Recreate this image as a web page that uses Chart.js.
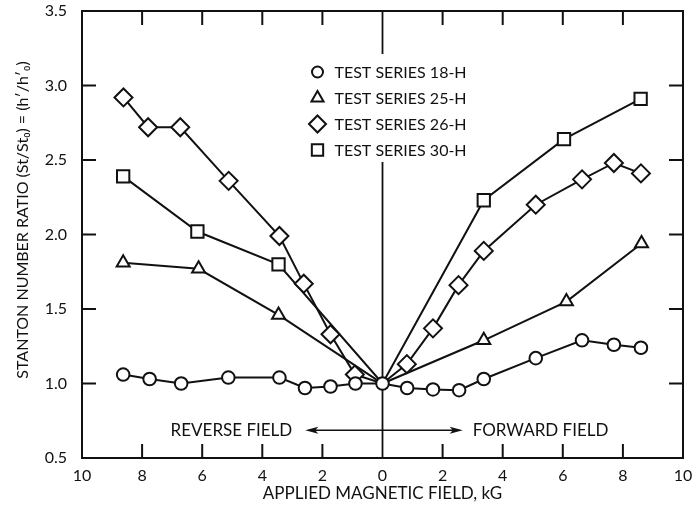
<!DOCTYPE html>
<html>
<head>
<meta charset="utf-8">
<title>Stanton number ratio vs applied magnetic field</title>
<script src="https://cdn.jsdelivr.net/npm/chart.js@4/dist/chart.umd.min.js"></script>
<style>
  html, body { margin: 0; padding: 0; background: #ffffff; }
  #wrap { width: 696px; height: 509px; }
</style>
</head>
<body>
<div id="wrap"><canvas id="stantonChart" width="696" height="509"></canvas></div>
<script>
// Stanton number ratio against applied magnetic field (reverse field on the left)

const seriesLabels = ['TEST SERIES 18-H', 'TEST SERIES 25-H', 'TEST SERIES 26-H', 'TEST SERIES 30-H'];

// field in kG, negative = reverse field
const field18 = [-8.63, -7.75, -6.7, -5.13, -3.43, -2.58, -1.73, -0.9, 0, 0.82, 1.68, 2.55, 3.37, 5.1, 6.64, 7.7, 8.6];
const ratio18 = [1.06, 1.03, 1.00, 1.04, 1.04, 0.97, 0.98, 1.00, 1.00, 0.97, 0.96, 0.955, 1.03, 1.17, 1.29, 1.26, 1.24];

const field25 = [-8.63, -6.12, -3.46, 0, 3.37, 6.12, 8.62];
const ratio25 = [1.81, 1.77, 1.46, 1.00, 1.29, 1.55, 1.94];

const field26 = [-8.62, -7.8, -6.73, -5.12, -3.43, -2.62, -1.73, -0.92, 0, 0.81, 1.68, 2.53, 3.37, 5.1, 6.64, 7.7, 8.6];
const ratio26 = [2.92, 2.72, 2.72, 2.36, 1.99, 1.67, 1.33, 1.06, 1.00, 1.13, 1.37, 1.66, 1.89, 2.20, 2.37, 2.48, 2.41];

const field30 = [-8.63, -6.16, -3.46, 0, 3.37, 6.04, 8.59];
const ratio30 = [2.39, 2.02, 1.80, 1.00, 2.23, 2.64, 2.91];

const xTickMarks = [-8, -6, -4, -2, 2, 4, 6, 8];
const yTickMarks = [1.0, 1.5, 2.0, 2.5, 3.0];

const ink = '#111111';
const fontFamily = "Lato, 'Open Sans', sans-serif";

function toPoints(xs, ys) {
    return xs.map((v, i) => ({ x: v, y: ys[i] }));
}

// the shared origin point is only marked by the 18-H circle
function hideOrigin(ctx, r) {
    const raw = ctx.raw;
    return raw && raw.x === 0 ? 0 : r;
}

function makeSeries(i, xs, ys, style, r) {
    return {
        label: seriesLabels[i],
        data: toPoints(xs, ys),
        showLine: true,
        borderColor: ink,
        borderWidth: 2,
        backgroundColor: '#ffffff',
        pointStyle: style,
        pointRadius: i === 0 ? r : (ctx) => hideOrigin(ctx, r),
        pointBorderWidth: 2,
        pointBorderColor: ink,
        pointBackgroundColor: '#ffffff',
        tension: 0
    };
}

const datasets = [
    makeSeries(0, field18, ratio18, 'circle', 6.3),
    makeSeries(1, field25, ratio25, 'triangle', 7.5),
    makeSeries(2, field26, ratio26, 'rectRot', 9),
    makeSeries(3, field30, ratio30, 'rect', 8.7)
];

// zero-field line, arrow and field labels go under the data
const underlay = {
    id: 'underlay',
    beforeDatasetsDraw(chart) {
        const { ctx, chartArea: a, scales: { x, y } } = chart;
        ctx.save();
        ctx.strokeStyle = ink;

        const x0 = x.getPixelForValue(0);
        ctx.lineWidth = 1.8;
        ctx.beginPath();
        ctx.moveTo(x0, a.top);
        ctx.lineTo(x0, a.bottom);
        ctx.stroke();

        // double arrow between the field labels
        const ay = y.getPixelForValue(0.686);
        const xl = x.getPixelForValue(-2.57);
        const xr = x.getPixelForValue(2.67);
        ctx.lineWidth = 1.4;
        ctx.beginPath();
        ctx.moveTo(xl + 4, ay);
        ctx.lineTo(xr - 4, ay);
        ctx.stroke();
        ctx.fillStyle = ink;
        [[xl, 1], [xr, -1]].forEach(([tip, dir]) => {
            ctx.beginPath();
            ctx.moveTo(tip, ay);
            ctx.lineTo(tip + dir * 13, ay - 3.5);
            ctx.lineTo(tip + dir * 10, ay);
            ctx.lineTo(tip + dir * 13, ay + 3.5);
            ctx.closePath();
            ctx.fill();
        });

        ctx.font = '17px ' + fontFamily;
        ctx.textBaseline = 'middle';
        ctx.textAlign = 'right';
        ctx.fillText('REVERSE FIELD', xl - 13, ay);
        ctx.textAlign = 'left';
        ctx.fillText('FORWARD FIELD', xr + 10, ay);
        ctx.restore();
    }
};

// frame, inward ticks, legend block and rotated y title
const overlay = {
    id: 'overlay',
    afterDraw(chart) {
        const { ctx, chartArea: a, scales: { x, y } } = chart;
        const tickLen = 14;
        ctx.save();

        // legend block interrupts the divider
        const x0 = x.getPixelForValue(0);
        const lx = x0 - 65;
        const top = a.top + 61;
        const rowH = 26;
        ctx.fillStyle = '#ffffff';
        ctx.fillRect(lx - 14, a.top + 43, 178, 108);
        chart.data.datasets.forEach((ds, i) => {
            const cy = top + i * rowH;
            ctx.strokeStyle = ink;
            ctx.fillStyle = '#ffffff';
            ctx.lineWidth = 2;
            Chart.helpers.drawPoint(ctx, {
                pointStyle: ds.pointStyle,
                radius: i === 0 ? 5.5 : i === 1 ? 7 : i === 2 ? 8.5 : 8,
                borderWidth: 2,
                rotation: 0
            }, lx, cy);
            ctx.fillStyle = ink;
            ctx.font = '16px ' + fontFamily;
            ctx.textAlign = 'left';
            ctx.textBaseline = 'middle';
            ctx.fillText(ds.label, lx + 17, cy + 1);
        });

        ctx.strokeStyle = ink;
        ctx.lineWidth = 2;
        ctx.beginPath();
        xTickMarks.forEach(v => {
            const px = x.getPixelForValue(v);
            ctx.moveTo(px, a.top);
            ctx.lineTo(px, a.top + tickLen);
            ctx.moveTo(px, a.bottom);
            ctx.lineTo(px, a.bottom - tickLen);
        });
        yTickMarks.forEach(v => {
            const py = y.getPixelForValue(v);
            ctx.moveTo(a.left, py);
            ctx.lineTo(a.left + tickLen, py);
            ctx.moveTo(a.right, py);
            ctx.lineTo(a.right - tickLen, py);
        });
        ctx.stroke();

        // box around the plot
        ctx.strokeRect(a.left, a.top, a.right - a.left, a.bottom - a.top);

        ctx.translate(23, 220);
        ctx.rotate(-Math.PI / 2);
        ctx.fillStyle = ink;
        ctx.font = '16px ' + fontFamily;
        ctx.textAlign = 'center';
        ctx.textBaseline = 'middle';
        ctx.fillText('STANTON NUMBER RATIO (St/St\u2080) = (h\u2032/h\u2032\u2080)', 0, 0);
        ctx.restore();
    }
};

new Chart(document.getElementById('stantonChart'), {
    type: 'scatter',
    data: { datasets: datasets },
    options: {
        responsive: false,
        animation: false,
        layout: { padding: { top: 9, right: 13, left: 0, bottom: 0 } },
        plugins: {
            legend: { display: false },
            tooltip: { enabled: false }
        },
        scales: {
            x: {
                type: 'linear',
                min: -10,
                max: 10,
                border: { display: false },
                grid: { display: false, drawTicks: false },
                ticks: {
                    stepSize: 2,
                    padding: 8,
                    color: ink,
                    font: { family: fontFamily, size: 16 },
                    maxRotation: 0,
                    callback: (value) => Math.abs(value)
                },
                title: {
                    display: true,
                    text: 'APPLIED MAGNETIC FIELD, kG',
                    color: ink,
                    font: { family: fontFamily, size: 17 },
                    padding: { top: 0, bottom: 5 }
                },
                afterFit: (scale) => {
                    scale.height = 51;
                    scale.paddingLeft = 0;
                    scale.paddingRight = 0;
                }
            },
            y: {
                min: 0.5,
                max: 3.5,
                border: { display: false },
                grid: { display: false, drawTicks: false },
                ticks: {
                    stepSize: 0.5,
                    padding: 15,
                    color: ink,
                    font: { family: fontFamily, size: 16 },
                    callback: (value) => value.toFixed(1)
                },
                afterFit: (scale) => {
                    scale.width = 82;
                    scale.paddingTop = 0;
                    scale.paddingBottom = 0;
                }
            }
        }
    },
    plugins: [underlay, overlay]
});
</script>
</body>
</html>
